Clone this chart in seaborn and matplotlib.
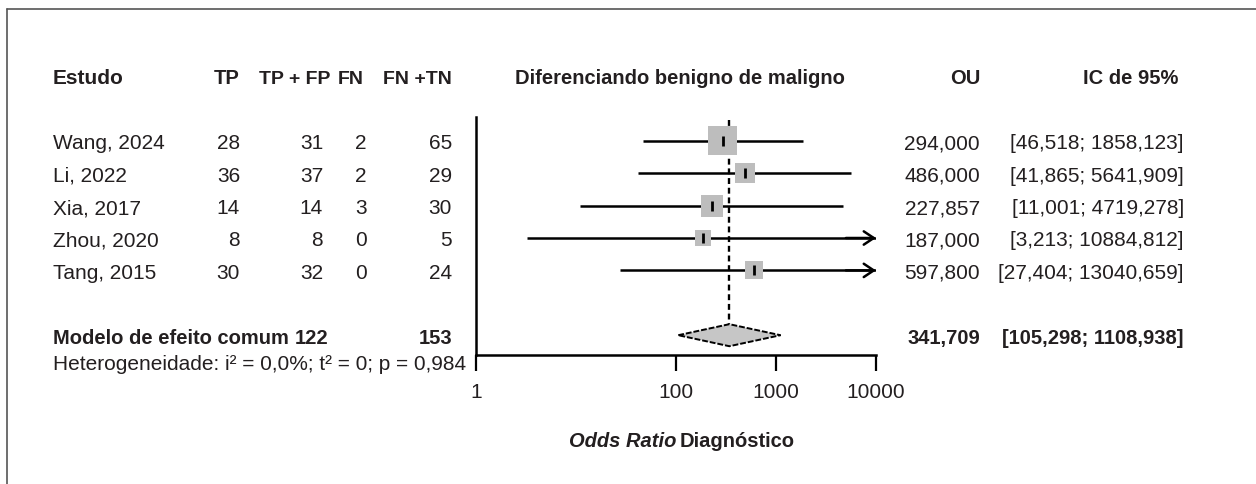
import numpy as np
import matplotlib
matplotlib.use("Agg")
import matplotlib.pyplot as plt
import matplotlib.transforms as mtransforms
from matplotlib.lines import Line2D
import seaborn as sns

# dados do forest plot
estudos = ["Wang, 2024", "Li, 2022", "Xia, 2017", "Zhou, 2020", "Tang, 2015"]
tp = [28, 36, 14, 8, 30]
tp_fp = [31, 37, 14, 8, 32]
fn = [2, 2, 3, 0, 0]
fn_tn = [65, 29, 30, 5, 24]
odds = [294.000, 486.000, 227.857, 187.000, 597.800]
ic_inf = [46.518, 41.865, 11.001, 3.213, 27.404]
ic_sup = [1858.123, 5641.909, 4719.278, 10884.812, 13040.659]
pesos = [36.5, 17.4, 21.0, 11.1, 14.1]  # estimado pelo tamanho dos quadrados

total_tp_fp = 122
total_fn_tn = 153
or_comum = 341.709
ic_comum = (105.298, 1108.938)
hetero = "Heterogeneidade: i² = 0,0%; t² = 0; p = 0,984"

xticks = [1, 100, 1000, 10000]


def fmt(v):
    return f"{v:.3f}".replace(".", ",")


sns.set_theme(style="white")
plt.rcParams["font.family"] = ["Liberation Sans Narrow", "Liberation Sans", "DejaVu Sans"]
txt_cor = "#231f20"
fs = 15
fsb = 14.5

W, H = 1256, 485
fig = plt.figure(figsize=(W / 100, H / 100), dpi=100)
fig.patch.set_facecolor("white")

# eixo do forest plot: x = 1 em 476px, 10000 em 876px; linhas a 32.4px
row_px, row0 = 32.4, 77
ax = fig.add_axes([476 / W, 0, 400 / W, 1])
ax.set_xscale("log")
ax.set_xlim(1, 10000)
ax.set_ylim((H - row0) / row_px, -row0 / row_px)
ax.set_facecolor("none")

linhas = np.arange(2, 2 + len(estudos))
linha_comum = 8
linha_het = 8.8
eixo_y = 8.6

# intervalos de confiança
sup_corte = np.minimum(ic_sup, 10000)
ax.hlines(linhas, ic_inf, sup_corte, color="black", lw=1.8, zorder=2)
for y, lo, hi in zip(linhas, ic_inf, ic_sup):
    if hi > 10000:
        ax.annotate("", xy=(10000, y), xytext=(5000, y),
                    arrowprops=dict(arrowstyle="->,head_length=0.45,head_width=0.3",
                                    lw=1.8, color="black", mutation_scale=16,
                                    shrinkA=0, shrinkB=0),
                    annotation_clip=False)

# quadrados (pesos)
lado_pt = 4.8 * np.sqrt(pesos) * 0.72
sns.scatterplot(x=odds, y=linhas, marker="s", s=lado_pt ** 2, color="#bdbdbd",
                edgecolor="none", linewidth=0, legend=False, ax=ax, zorder=3)
ax.scatter(odds, linhas, marker="|", s=60, color="black", linewidths=2, zorder=4)

# linha tracejada do efeito comum
ax.vlines(or_comum, 1.35, linha_comum - 0.34, color="black", lw=1.7,
          linestyles=(0, (2.5, 1.6)), zorder=1)

# losango
h = 0.34
ax.fill([ic_comum[0], or_comum, ic_comum[1], or_comum],
        [linha_comum, linha_comum - h, linha_comum, linha_comum + h],
        facecolor="#c6c6c6", edgecolor="black", lw=1.4, linestyle=(0, (3, 1)), zorder=3)

# eixos
for s in ["top", "right"]:
    ax.spines[s].set_visible(False)
ax.spines["left"].set_bounds(1.27, eixo_y)
ax.spines["left"].set_linewidth(1.8)
ax.spines["left"].set_color("black")
ax.spines["bottom"].set_position(("data", eixo_y))
ax.spines["bottom"].set_bounds(1, 10000)
ax.spines["bottom"].set_linewidth(1.8)
ax.spines["bottom"].set_color("black")
ax.set_yticks([])
ax.set_xticks(xticks)
ax.set_xticklabels([str(t) for t in xticks])
ax.xaxis.set_minor_locator(matplotlib.ticker.NullLocator())
ax.tick_params(axis="x", direction="out", length=11.5, width=1.6, color="black",
               pad=8, labelsize=fs, labelcolor=txt_cor, bottom=True)

# textos das colunas
tr = mtransforms.blended_transform_factory(fig.transFigure, ax.transData)


def put(xpx, y, s, ha="left", bold=False, style="normal", size=None):
    ax.text(xpx / W, y, s, transform=tr, ha=ha, va="center_baseline",
            fontsize=size or (fsb if bold else fs),
            color=txt_cor, fontweight="bold" if bold else "normal", fontstyle=style,
            clip_on=False)


put(53, 0, "Estudo", bold=True, size=15)
put(240, 0, "TP", "right", True)
put(330, 0, "TP + FP", "right", True, size=14)
put(364, 0, "FN", "right", True, size=14)
put(452, 0, "FN +TN", "right", True, size=14)
put(680, 0, "Diferenciando benigno de maligno", "center", True)
put(980, 0, "OU", "right", True)
put(1178, 0, "IC de 95%", "right", True)

for y, e, a, b, c, d, o, lo, hi in zip(linhas, estudos, tp, tp_fp, fn, fn_tn,
                                       odds, ic_inf, ic_sup):
    put(53, y, e)
    put(240, y, str(a), "right")
    put(323, y, str(b), "right")
    put(367, y, str(c), "right")
    put(452, y, str(d), "right")
    put(980, y, fmt(o), "right")
    put(1184, y, f"[{fmt(lo)}; {fmt(hi)}]", "right")

put(53, linha_comum, "Modelo de efeito comum", bold=True)
put(328, linha_comum, str(total_tp_fp), "right", True)
put(452, linha_comum, str(total_fn_tn), "right", True)
put(980, linha_comum, fmt(or_comum), "right", True)
put(1184, linha_comum, f"[{fmt(ic_comum[0])}; {fmt(ic_comum[1])}]", "right", True)
put(53, linha_het, hetero)

# rótulo do eixo x
ylab = (440 - row0) / row_px
put(676, ylab, "Odds Ratio", "right", True, "italic")
put(680, ylab, "Diagnóstico", "left", True)

# moldura (só topo e esquerda)
fig.add_artist(Line2D([7 / W, 1], [1 - 10 / H, 1 - 10 / H], color="#555555", lw=1.2))
fig.add_artist(Line2D([7 / W, 7 / W], [0, 1 - 10 / H], color="#555555", lw=1.2))

fig.savefig("out.png", dpi=100)
